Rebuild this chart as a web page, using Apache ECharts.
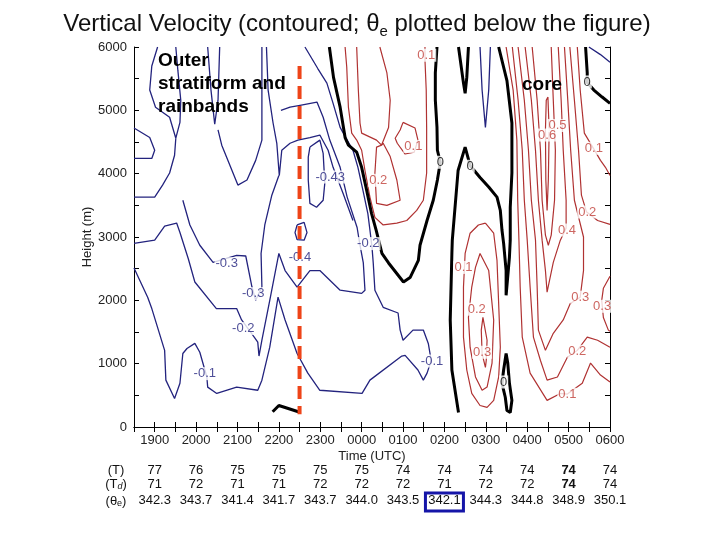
<!DOCTYPE html>
<html><head><meta charset="utf-8">
<script src="https://cdn.jsdelivr.net/npm/echarts@6/dist/echarts.min.js"></script>
<style>html,body{margin:0;background:#fff}#c{width:720px;height:540px}</style>
</head><body><div id="c"></div>
<script>
// ---- table data (hours 19..30 => 1900..0600) ----
const tableHours = [19,20,21,22,23,24,25,26,27,28,29,30];
const tempT  = ['77','76','75','75','75','75','74','74','74','74','74','74'];
const tempTd = ['71','72','71','71','72','72','72','71','72','72','74','74'];
const thetaE = ['342.3','343.7','341.4','341.7','343.7','344.0','343.5','342.1','344.3','344.8','348.9','350.1'];
const boldIndex = 10;
const boxedHour = 26;

// ---- contour polylines: [hour (24+ after midnight), height m] ----
const zeroK1 = [[21.85,240],[22.0,340],[22.47,240]];
const zeroK2 = [[23.22,6000],[23.32,5520],[23.48,5050],[23.60,4570],[23.68,4450],[23.88,4340],[24.00,4100],[24.12,3740],[24.24,3370],[24.35,3110],[24.49,2740],[24.65,2590],[25.01,2290],[25.17,2360],[25.37,2630],[25.41,2870],[25.58,3260],[25.73,3580],[25.83,3900],[25.90,4180],[25.83,4370],[25.82,4730],[25.78,5160],[25.78,5590],[25.82,6000]];
const zeroK3 = [[26.34,6000],[26.46,5430],[26.50,5270],[26.54,5520],[26.58,6000]];
const zeroK4 = [[27.31,6000],[27.51,5470],[27.63,4800],[27.63,4010],[27.59,3470],[27.59,2950],[27.57,2680],[27.49,2080],[27.49,2470],[27.43,2900],[27.39,3110],[27.35,3420],[27.27,3630],[27.07,3790],[26.86,3940],[26.62,4130],[26.50,4420],[26.33,4050],[26.19,2950],[26.18,2740],[26.14,1690],[26.18,900],[26.34,230]];
const zeroK5 = [[27.49,1160],[27.43,900],[27.39,690],[27.47,470],[27.51,260],[27.59,230],[27.63,420],[27.57,690],[27.53,1010],[27.49,1160]];
const zeroK6 = [[29.41,6000],[29.45,5590],[29.45,5440],[29.61,5320],[29.81,5210],[30,5110]];

const posA1 = [[23.60,6000],[23.64,5680],[23.68,5050],[23.76,4640],[23.88,4530],[24.00,4370],[24.08,4050],[24.20,3630],[24.32,3310],[24.52,3190],[24.85,3220],[25.09,3260],[25.33,3420],[25.49,3580],[25.57,4010],[25.57,4730],[25.56,5320],[25.53,5790],[25.53,6000]];
const posA2 = [[23.88,6000],[23.92,5320],[23.96,4800],[24.00,4640],[24.36,4530],[24.48,4450],[24.65,4730],[24.69,5160],[24.61,5590],[24.44,6000]];
const posA3 = [[24.48,4450],[24.36,4420],[24.32,4010],[24.36,3530],[24.61,3500],[24.93,3580],[24.85,3900],[24.69,4270],[24.52,4480],[24.48,4450]];
const posA4 = [[25.00,4810],[25.29,4720],[25.36,4530],[25.27,4340],[25.05,4310],[24.86,4480],[24.81,4560],[24.93,4690],[25.00,4810]];
const posB1 = [[26.99,3220],[27.19,3060],[27.27,2630],[27.31,1950],[27.35,1260],[27.31,790],[27.19,420],[27.03,310],[26.86,340],[26.66,530],[26.54,900],[26.46,1420],[26.46,2210],[26.50,2740],[26.62,3060],[26.82,3190],[26.99,3220]];
const posB2 = [[26.86,2740],[27.07,2470],[27.19,1690],[27.15,1010],[27.03,630],[26.91,580],[26.75,790],[26.62,1260],[26.58,1730],[26.66,2210],[26.75,2520],[26.86,2740]];
const posB3 = [[26.93,1730],[27.03,1370],[27.01,1050],[26.99,940],[26.91,1160],[26.89,1530],[26.93,1730]];
const posC1 = [[27.49,6000],[27.66,5320],[27.75,4530],[27.77,3580],[27.80,2950],[27.83,2210],[27.88,1420],[28.07,850],[28.48,420],[28.80,530],[28.97,520],[29.33,690],[29.53,1010],[29.77,820],[30,710]];
const posC2 = [[27.64,6000],[27.78,5160],[27.88,4370],[27.93,3580],[28.00,2950],[28.07,2210],[28.15,1420],[28.32,1050],[28.48,740],[28.73,790],[28.97,1100],[29.21,1210],[29.45,1420],[29.70,1370],[30,1260]];
const posC3 = [[27.78,6000],[27.93,5160],[28.03,4370],[28.10,3580],[28.20,2950],[28.24,2210],[28.27,1530],[28.44,1210],[28.63,1480],[28.87,1690],[29.04,1950],[29.28,2050],[29.36,2470],[29.36,3000],[29.14,3580],[29.05,4370],[28.98,5160],[28.90,6000]];
const posC4 = [[27.95,6000],[28.10,5160],[28.20,4370],[28.27,3580],[28.36,2950],[28.44,2470],[28.48,2130],[28.63,2600],[28.80,2950],[28.94,3140],[28.94,3580],[28.87,4370],[28.82,5160],[28.75,6000]];
const posC5 = [[28.12,6000],[28.24,5160],[28.32,4370],[28.36,3580],[28.44,3030],[28.51,2870],[28.58,3030],[28.66,3580],[28.68,4370],[28.63,5160],[28.58,6000]];
const posC6 = [[28.50,5210],[28.53,4690],[28.51,3900],[28.48,3420],[28.45,3900],[28.44,4690],[28.46,5160],[28.50,5210]];
const posR1 = [[29.21,6000],[29.28,5320],[29.38,4640],[29.60,4400],[29.77,4210],[29.89,4100],[30,3970]];
const posR2 = [[29.03,6000],[29.14,5160],[29.24,4370],[29.31,3660],[29.43,3400],[29.70,3260],[30,3200]];
const posR3 = [[30,2380],[29.84,2190],[29.80,2000],[29.84,1730],[29.96,1530],[30,1510]];

const negCorner = [[29.49,6000],[29.77,5880],[30,5760]];
const negMid = [[26.86,6000],[26.91,5320],[26.99,4730],[27.07,5320],[27.11,6000]];
const negL1 = [[18.50,2510],[18.83,2050],[18.93,1870],[19.24,1210],[19.27,740],[19.48,450],[19.61,690],[19.68,1160],[19.78,1240],[19.97,1320],[20.09,1180],[20.26,790],[20.28,630],[20.50,530],[20.98,630],[21.49,580],[21.59,740],[21.78,1260],[21.98,2050],[22.15,1690],[22.44,1160],[22.70,850],[22.99,580],[24.01,530],[24.20,740],[24.97,1120],[25.05,1130],[25.36,900],[25.49,740],[25.58,850],[25.68,1050],[25.61,1320],[25.49,1530],[25.24,1530],[25.00,1370],[24.93,1530],[24.88,1800],[24.52,1890],[24.32,2160],[24.28,2590],[24.25,2840],[24.20,3110],[24.15,3370],[24.03,3740],[23.91,4100],[23.79,4370],[23.65,4530],[23.48,4730],[23.31,5110],[23.16,5430],[22.94,5660],[22.63,6000]];
const negL2 = [[18.5,2900],[19.00,2950],[19.24,3170],[19.53,3220],[19.61,3070],[19.81,2660],[19.97,2290],[20.49,1870],[20.98,1870],[21.10,1690],[21.37,1450],[21.49,1340],[21.52,1120],[21.59,1370],[21.78,2000],[22.00,2740],[22.15,2470],[22.44,2210],[22.75,2470],[22.99,2470],[23.48,2160],[24.00,2110],[24.08,2160],[24.04,2590],[23.96,2870],[23.89,3150],[23.65,3630],[23.48,4100],[23.23,4530],[23.07,4890],[22.92,5130],[22.51,5080],[22.27,5050],[22.05,5000]];
const negL3 = [[19.07,6000],[18.93,5700],[18.88,5320],[19.02,5050],[19.36,4890],[19.51,4560],[19.61,4810],[19.63,5160],[19.56,5630],[19.51,6000]];
const negL4 = [[20.28,6000],[20.36,5320],[20.45,4780],[20.53,5160],[20.57,6000]];
const negL5 = [[18.5,4720],[18.88,4570],[19.00,4370],[18.93,4240],[18.5,4240]];
const negL6 = [[18.5,3630],[19.00,3630],[19.19,3820],[19.36,4010],[19.48,4290],[19.51,4560]];
const negL7 = [[21.70,6000],[21.74,5320],[21.86,4800],[21.95,4480],[22.01,3970],[22.07,4370],[22.27,4480],[22.46,4530],[22.75,4570],[22.99,4610],[23.19,4370],[23.31,4100],[23.55,3690],[23.79,3260]];
const negL8 = [[20.53,4690],[20.62,4450],[21.01,3820],[21.23,3900],[21.44,4210],[21.59,4530],[21.59,5160],[21.59,6000]];
const negL9 = [[19.68,3580],[19.85,3190],[20.09,2870],[20.41,2600],[20.98,2710],[21.20,2700],[21.35,2210],[21.44,2000],[21.59,2210],[21.57,2740],[21.66,3190],[21.83,3660],[22.00,3970]];
const negL40 = [[22.44,3190],[22.61,3230],[22.68,3070],[22.61,2950],[22.44,2960],[22.39,3070],[22.44,3190]];
const negL43 = [[22.75,4420],[22.99,4530],[23.07,4320],[23.11,3850],[23.07,3580],[22.91,3470],[22.75,3530],[22.71,3900],[22.71,4260],[22.75,4420]];

const dividerLine = [[22.5,5700],[22.5,200]];

// contour labels: [text, hour, height]
const labelsPos = [['0.1',25.56,5870],['0.1',25.25,4430],['0.2',24.40,3895],['0.5',28.73,4760],['0.6',28.48,4610],['0.1',29.61,4400],['0.2',29.45,3395],['0.4',28.96,3110],['0.1',26.46,2520],['0.2',26.78,1860],['0.3',26.91,1180],['0.3',29.28,2050],['0.3',29.81,1906],['0.2',29.21,1195],['0.1',28.97,516]];
const labelsZero = [['0',25.90,4180],['0',26.62,4117],['0',29.45,5448],['0',27.43,711]];
const labelsNeg = [['-0.43',23.24,3948],['-0.2',24.16,2896],['-0.4',22.51,2684],['-0.3',20.74,2580],['-0.3',21.38,2106],['-0.2',21.14,1554],['-0.1',20.21,843],['-0.1',25.70,1042]];

const FONT = '"Liberation Sans", Arial, sans-serif';
const BLUE = '#23237e', RED = '#b03232', REDL = '#c0403a', BLACK = '#000';

function hourLabel(v){
  if (Math.abs(v - Math.round(v)) > 1e-6) return '';
  const h = Math.round(v) % 24;
  return (h < 10 ? '0' : '') + h + '00';
}
function rowLabel(arr, bold){
  return function(v){
    if (Math.abs(v - Math.round(v)) > 1e-6) return '';
    const i = tableHours.indexOf(Math.round(v));
    if (i < 0) return '';
    return (bold && i === boldIndex) ? '{b|' + arr[i] + '}' : arr[i];
  };
}
function line(data, color, width, z){
  return {type:'line', data:data, showSymbol:false, symbol:'none', silent:true, animation:false,
    lineStyle:{color:color, width:width}, z:z||2};
}
function labels(list, color){
  return {type:'scatter', symbolSize:0, silent:true, animation:false, z:5,
    data:list.map(d => ({value:[d[1], d[2]], name:d[0]})),
    label:{show:true, position:'inside', formatter:'{b}', color:color, fontSize:13, fontFamily:FONT,
      backgroundColor:'#fff', padding:[0,1]}};
}
const rowAxis = (arr, off, bold) => ({type:'value', min:18.5, max:30, interval:0.5, position:'bottom', offset:off,
  axisLine:{show:false}, axisTick:{show:false}, splitLine:{show:false},
  axisLabel:{margin:0, formatter:rowLabel(arr, bold), color:'#111', fontSize:13, fontFamily:FONT,
    rich:{b:{fontWeight:'bold', fontSize:13, fontFamily:FONT, color:'#111'}}}});

const chart = echarts.init(document.getElementById('c'));
const blackSeries = [zeroK1, zeroK2, zeroK3, zeroK4, zeroK5, zeroK6].map(d => line(d, BLACK, 3, 3));
const redSeries = [posA1,posA2,posA3,posA4,posB1,posB2,posB3,posC1,posC2,posC3,posC4,posC5,posC6,posR1,posR2,posR3].map(d => line(d, RED, 1.2, 2));
const blueSeries = [negCorner,negMid,negL1,negL2,negL3,negL4,negL5,negL6,negL7,negL8,negL9,negL40,negL43].map(d => line(d, BLUE, 1.3, 2));

chart.setOption({
  animation:false,
  grid:{left:134, right:110, top:47, bottom:113, show:false},
  xAxis:[
    {type:'value', min:18.5, max:30, interval:0.5, position:'bottom',
      name:'Time (UTC)', nameLocation:'middle', nameGap:23, nameMoveOverlap:false, nameTextStyle:{fontSize:13, fontFamily:FONT, color:'#222'},
      axisLine:{lineStyle:{color:'#000', width:1}}, axisTick:{inside:true, length:5, lineStyle:{color:'#000'}},
      splitLine:{show:false}, axisLabel:{margin:7, formatter:hourLabel, color:'#222', fontSize:13, fontFamily:FONT}},
    {type:'value', min:18.5, max:30, interval:0.5, position:'top',
      axisLine:{lineStyle:{color:'#000', width:1}}, axisTick:{inside:true, length:5, lineStyle:{color:'#000'}},
      splitLine:{show:false}, axisLabel:{show:false}},
    rowAxis(tempT, 36.5, true), rowAxis(tempTd, 50.5, true), rowAxis(thetaE, 67, false)
  ],
  yAxis:[
    {type:'value', min:0, max:6000, interval:500, position:'left',
      name:'Height (m)', nameLocation:'middle', nameGap:40, nameMoveOverlap:false, nameTextStyle:{fontSize:13, fontFamily:FONT, color:'#222'},
      axisLine:{lineStyle:{color:'#000', width:1}}, axisTick:{inside:true, length:5, lineStyle:{color:'#000'}},
      splitLine:{show:false}, axisLabel:{margin:7, formatter:v => (v % 1000 === 0 ? String(v) : ''), color:'#222', fontSize:13, fontFamily:FONT}},
    {type:'value', min:0, max:6000, interval:500, position:'right',
      axisLine:{lineStyle:{color:'#000', width:1}}, axisTick:{inside:true, length:5, lineStyle:{color:'#000'}},
      splitLine:{show:false}, axisLabel:{show:false}}
  ],
  series:[].concat(redSeries, blueSeries, blackSeries,
    [labels(labelsPos, REDL), labels(labelsNeg, BLUE), labels(labelsZero, BLACK),
     {type:'line', data:dividerLine, showSymbol:false, symbol:'none', silent:true, z:8,
      lineStyle:{color:'#ee4418', width:4, type:[13,7]}}])
});

const bx = chart.convertToPixel({xAxisIndex:0}, boxedHour);
chart.setOption({graphic:[
  {type:'text', x:357, y:24, style:{text:'{a|Vertical Velocity (contoured; θ}{s|e}{a| plotted below the figure)}', align:'center', verticalAlign:'middle',
    rich:{a:{fontSize:24, fontFamily:FONT, fill:'#111', lineHeight:30}, s:{fontSize:15, fontFamily:FONT, fill:'#111', lineHeight:18, verticalAlign:'bottom'}}}},
  {type:'text', x:158, y:49, z:20, style:{text:'Outer\nstratiform and\nrainbands', font:'bold 19px ' + FONT, fill:'#000', lineHeight:23}},
  {type:'text', x:522, y:75, z:20, style:{text:'core', font:'bold 19px ' + FONT, fill:'#000'}},
  {type:'text', x:116, y:470, style:{text:'(T)', align:'center', verticalAlign:'middle', font:'13px ' + FONT, fill:'#111'}},
  {type:'text', x:116, y:484, style:{text:'{a|(T}{s|d}{a|)}', align:'center', verticalAlign:'middle',
    rich:{a:{fontSize:13, fontFamily:FONT, fill:'#111'}, s:{fontSize:9, fontFamily:FONT, fill:'#111', fontStyle:'italic', padding:[5,0,0,0]}}}},
  {type:'text', x:116, y:501, style:{text:'{a|(θ}{s|e}{a|)}', align:'center', verticalAlign:'middle',
    rich:{a:{fontSize:13, fontFamily:FONT, fill:'#111'}, s:{fontSize:9, fontFamily:FONT, fill:'#111', padding:[5,0,0,0]}}}},
  {type:'rect', shape:{x:bx - 19, y:493, width:38, height:18}, style:{fill:'none', stroke:'#1515a8', lineWidth:3}}
]});
</script></body></html>
